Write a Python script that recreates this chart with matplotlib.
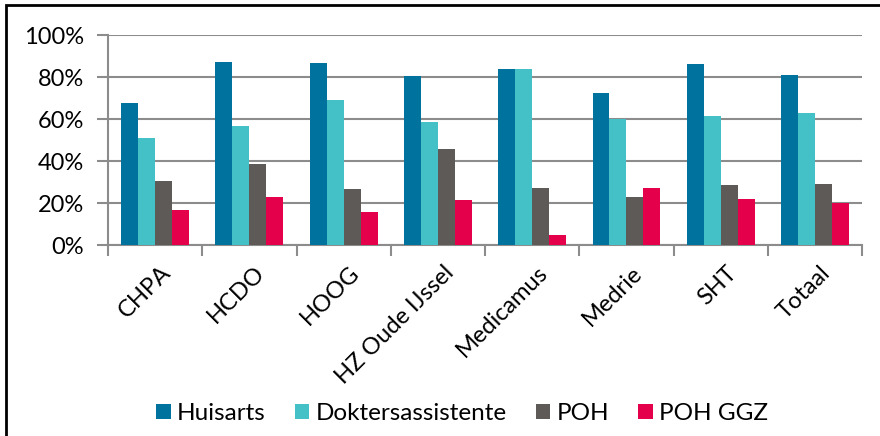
import matplotlib.pyplot as plt
import numpy as np
from matplotlib.patches import Rectangle

# data (fractions)
categories = ['CHPA', 'HCDO', 'HOOG', 'HZ Oude IJssel', 'Medicamus', 'Medrie', 'SHT', 'Totaal']
huisarts = [0.677, 0.872, 0.868, 0.805, 0.840, 0.724, 0.862, 0.808]
doktersassistente = [0.509, 0.567, 0.692, 0.586, 0.840, 0.602, 0.616, 0.628]
poh = [0.306, 0.387, 0.266, 0.456, 0.274, 0.230, 0.287, 0.292]
poh_ggz = [0.168, 0.228, 0.160, 0.217, 0.048, 0.274, 0.219, 0.201]
series_names = ['Huisarts', 'Doktersassistente', 'POH', 'POH GGZ']
y_ticks = [0, 0.2, 0.4, 0.6, 0.8, 1.0]

colors = ['#00729E', '#43C1C6', '#5E5A57', '#E4004A']
plt.rcParams['font.family'] = ['Lato', 'DejaVu Sans']

fig = plt.figure(figsize=(8.8, 4.36), dpi=100)
ax = fig.add_axes([0.1227, 0.4374, 0.857, 0.4823])

x = np.arange(len(categories))
w = 0.18
for i, (vals, name) in enumerate(zip([huisarts, doktersassistente, poh, poh_ggz], series_names)):
    ax.bar(x + (i - 1.5) * w, vals, width=w, color=colors[i], label=name, zorder=3)

ax.set_xlim(-0.5, len(categories) - 0.5)
ax.set_ylim(0, 1.0)
ax.set_yticks(y_ticks)
ax.set_yticklabels([f'{int(round(v * 100))}%' for v in y_ticks], fontsize=17)
ax.yaxis.grid(True, color='#8C8C8C', linewidth=1.5, zorder=0)
ax.tick_params(axis='y', length=8, width=1.5, color='#8C8C8C', pad=9)

ax.set_xticks(x + 0.05)
ax.set_xticklabels(categories, rotation=45, ha='right', rotation_mode='anchor', fontsize=17)
ax.tick_params(axis='x', which='major', length=0, pad=12)
ax.set_xticks(np.arange(-0.5, len(categories)), minor=True)
ax.tick_params(axis='x', which='minor', length=8, width=1.5, color='#8C8C8C')

for s in ['top', 'right']:
    ax.spines[s].set_visible(False)
for s in ['left', 'bottom']:
    ax.spines[s].set_color('#8C8C8C')
    ax.spines[s].set_linewidth(1.5)

leg = fig.legend(loc='center', bbox_to_anchor=(0.525, 0.052), ncol=4, frameon=False,
                 fontsize=17.5, handlelength=0.6, handleheight=0.6, handletextpad=0.25,
                 columnspacing=1.2)

# outer chart border (cut off on right and bottom in the reference)
fig.patches.append(Rectangle((6 / 880, -0.2), 1.2, 1.2 - 5 / 436, transform=fig.transFigure,
                             fill=False, edgecolor='black', linewidth=2))

fig.savefig('out.png', dpi=100)
